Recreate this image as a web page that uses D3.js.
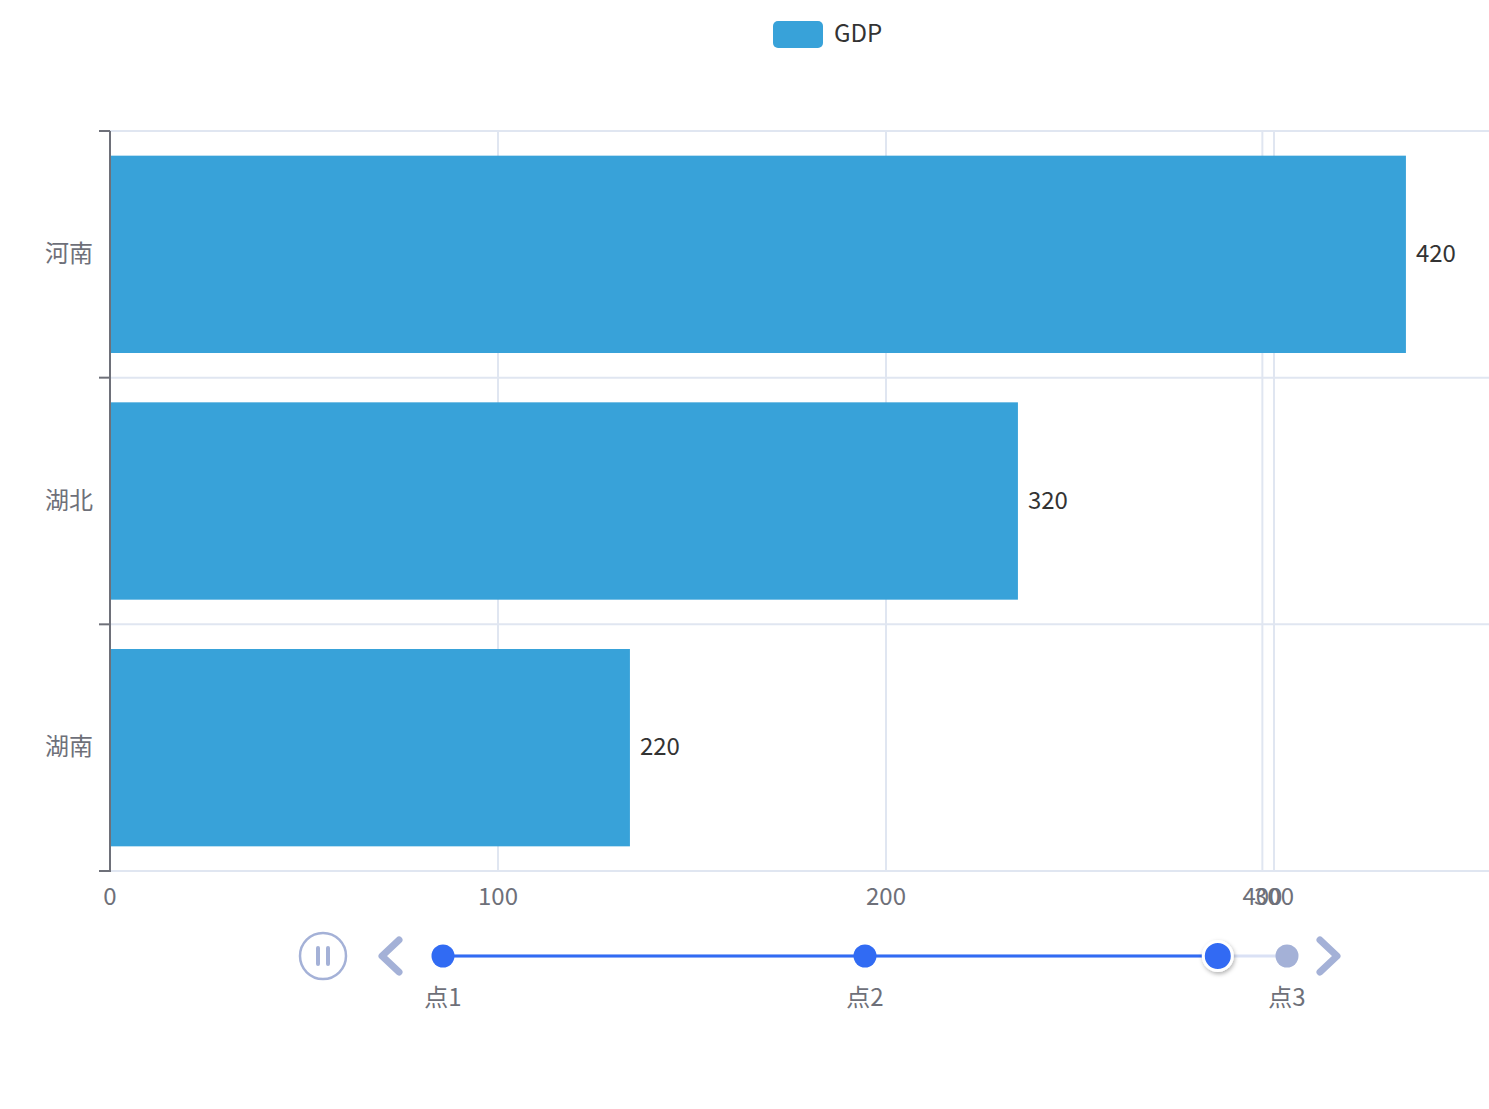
<!DOCTYPE html>
<html>
<head>
<meta charset="utf-8">
<script src="https://cdn.jsdelivr.net/npm/d3@7"></script>
<style>
  body { margin: 0; background: #fff; }
  svg text { font-family: "Noto Sans CJK SC", "Noto Sans", sans-serif; }
</style>
</head>
<body>
<div id="chart"></div>
<script>
// data
var categories = ['河南', '湖北', '湖南'];
var gdpValues = [420, 320, 220];          // label values
var gdpShown = [334, 234, 134];           // bar length in this (animating) frame
var xTicks = [0, 100, 200, 300];
var oldTicks = [{label: '400', value: 297}]; // fading tick from previous axis
var timePoints = ['点1', '点2', '点3'];
var timeCurrent = 1.836;                   // handle position, moving toward 点3

var width = 1489, height = 1109;
var fs = 24;
var svg = d3.select('#chart').append('svg').attr('width', width).attr('height', height);

var x = d3.scaleLinear().domain([0, 1379 / 3.88]).range([110, 1489]);
var y = d3.scaleBand().domain(categories).range([131, 871]).paddingInner(0.2).paddingOuter(0.1);
var step = y.step();

// legend
svg.append('rect').attr('x', 773).attr('y', 21).attr('width', 50).attr('height', 27)
    .attr('rx', 5).attr('fill', '#38a2d9');
svg.append('text').attr('x', 834).attr('y', 31).attr('dominant-baseline', 'central')
    .attr('font-size', fs).attr('fill', '#333').text('GDP');

// vertical grid
var allTicks = xTicks.map(function(d) { return {label: String(d), value: d}; }).concat(oldTicks);
svg.append('g').selectAll('line').data(allTicks.filter(function(d) { return d.value > 0; }))
  .enter().append('line')
    .attr('x1', function(d) { return x(d.value); }).attr('x2', function(d) { return x(d.value); })
    .attr('y1', 131).attr('y2', 871)
    .attr('stroke', '#e0e6f1').attr('stroke-width', 2);

// horizontal grid at category boundaries
var bounds = d3.range(categories.length + 1).map(function(i) { return 131 + i * step; });
svg.append('g').selectAll('line').data(bounds).enter().append('line')
    .attr('x1', 110).attr('x2', width)
    .attr('y1', function(d) { return d; }).attr('y2', function(d) { return d; })
    .attr('stroke', '#e0e6f1').attr('stroke-width', 2);

// bars
svg.append('g').selectAll('rect').data(categories).enter().append('rect')
    .attr('x', x(0))
    .attr('y', function(d) { return y(d); })
    .attr('width', function(d, i) { return x(gdpShown[i]) - x(0); })
    .attr('height', y.bandwidth())
    .attr('fill', '#38a2d9');

// value labels
svg.append('g').selectAll('text').data(categories).enter().append('text')
    .attr('x', function(d, i) { return x(gdpShown[i]) + 10; })
    .attr('y', function(d) { return y(d) + y.bandwidth() / 2 - 3; })
    .attr('dominant-baseline', 'central')
    .attr('font-size', fs).attr('fill', '#333')
    .text(function(d, i) { return gdpValues[i]; });

// y axis
svg.append('line').attr('x1', 110).attr('x2', 110).attr('y1', 131).attr('y2', 872)
    .attr('stroke', '#6e7079').attr('stroke-width', 2);
svg.append('g').selectAll('line').data(bounds).enter().append('line')
    .attr('x1', 99).attr('x2', 110)
    .attr('y1', function(d) { return d; }).attr('y2', function(d) { return d; })
    .attr('stroke', '#6e7079').attr('stroke-width', 2);
svg.append('g').selectAll('text').data(categories).enter().append('text')
    .attr('x', 93)
    .attr('y', function(d) { return y(d) + y.bandwidth() / 2 - 3; })
    .attr('text-anchor', 'end').attr('dominant-baseline', 'central')
    .attr('font-size', fs).attr('fill', '#6e7079')
    .text(function(d) { return d; });

// x tick labels
svg.append('g').selectAll('text').data(allTicks).enter().append('text')
    .attr('x', function(d) { return x(d.value); })
    .attr('y', 894).attr('text-anchor', 'middle').attr('dominant-baseline', 'central')
    .attr('font-size', fs).attr('fill', '#6e7079')
    .text(function(d) { return d.label; });

// timeline
var t = d3.scaleLinear().domain([0, timePoints.length - 1]).range([443, 1287]);
var ty = 956;
var ctrl = '#a4b1d7', active = '#316bf3';
var tl = svg.append('g');
tl.append('line').attr('x1', t(0)).attr('x2', t(timePoints.length - 1)).attr('y1', ty).attr('y2', ty)
    .attr('stroke', '#dae1f5').attr('stroke-width', 3);
tl.append('line').attr('x1', t(0)).attr('x2', t(timeCurrent)).attr('y1', ty).attr('y2', ty)
    .attr('stroke', active).attr('stroke-width', 3);
tl.selectAll('circle.pt').data(timePoints).enter().append('circle')
    .attr('class', 'pt')
    .attr('cx', function(d, i) { return t(i); }).attr('cy', ty).attr('r', 11.5)
    .attr('fill', function(d, i) { return i <= timeCurrent ? active : ctrl; });
tl.selectAll('text').data(timePoints).enter().append('text')
    .attr('x', function(d, i) { return t(i); }).attr('y', 995)
    .attr('text-anchor', 'middle').attr('dominant-baseline', 'central')
    .attr('font-size', fs).attr('fill', '#6e7079')
    .text(function(d) { return d; });

// handle with shadow
var defs = svg.append('defs');
var f = defs.append('filter').attr('id', 'sh').attr('x', '-50%').attr('y', '-50%').attr('width', '200%').attr('height', '200%');
f.append('feDropShadow').attr('dx', 1).attr('dy', 2).attr('stdDeviation', 2).attr('flood-color', '#000').attr('flood-opacity', 0.3);
tl.append('circle').attr('cx', t(timeCurrent)).attr('cy', ty).attr('r', 14.5)
    .attr('fill', active).attr('stroke', '#fff').attr('stroke-width', 3).attr('filter', 'url(#sh)');

// play button (paused state)
tl.append('circle').attr('cx', 323).attr('cy', ty).attr('r', 23)
    .attr('fill', 'none').attr('stroke', ctrl).attr('stroke-width', 2.5);
[-5, 5].forEach(function(dx) {
  tl.append('line').attr('x1', 323 + dx).attr('x2', 323 + dx).attr('y1', ty - 8).attr('y2', ty + 8)
      .attr('stroke', ctrl).attr('stroke-width', 4).attr('stroke-linecap', 'round');
});

// prev / next arrows
tl.append('path').attr('d', 'M399,' + (ty - 16) + 'L382,' + ty + 'L399,' + (ty + 16))
    .attr('fill', 'none').attr('stroke', ctrl).attr('stroke-width', 7)
    .attr('stroke-linecap', 'round').attr('stroke-linejoin', 'round');
tl.append('path').attr('d', 'M1320,' + (ty - 16) + 'L1337,' + ty + 'L1320,' + (ty + 16))
    .attr('fill', 'none').attr('stroke', ctrl).attr('stroke-width', 7)
    .attr('stroke-linecap', 'round').attr('stroke-linejoin', 'round');
</script>
</body>
</html>
